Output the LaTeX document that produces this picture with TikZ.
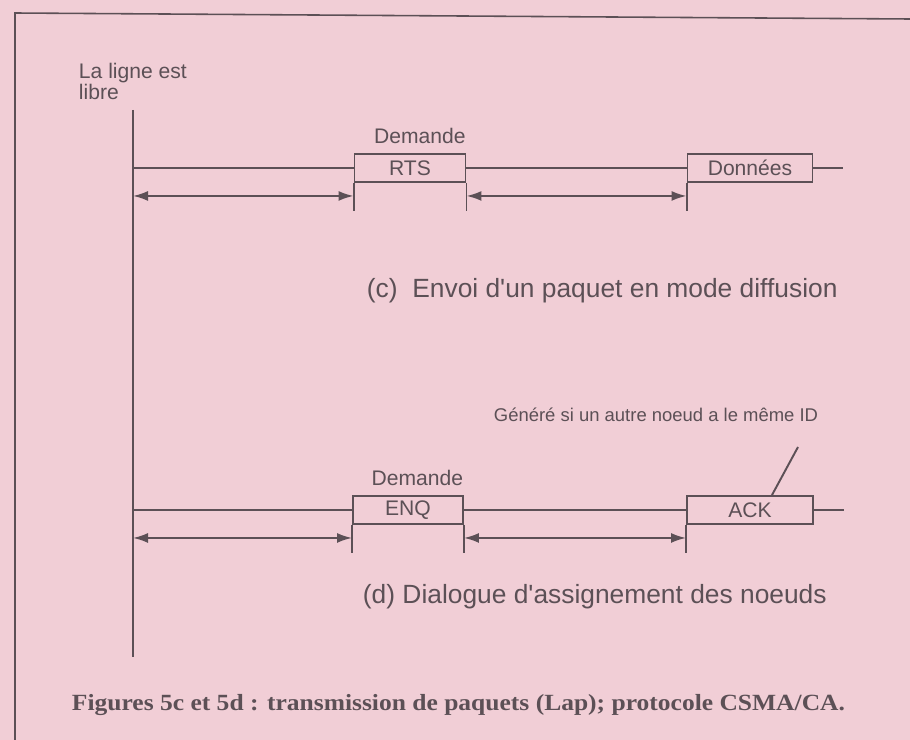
\documentclass[tikz,border=0pt]{standalone}
\usepackage{fontspec}
\setmainfont{Liberation Sans}
\newfontfamily\capfont[FakeStretch=1.1]{Liberation Serif}
\usetikzlibrary{positioning,arrows.meta}
\definecolor{bgpink}{RGB}{241,206,214}
\definecolor{ink}{RGB}{92,80,86}
\tikzstyle{pkt}    = [draw, rectangle, inner sep=0pt, minimum height=5.6mm, font=\fontsize{12}{14}\selectfont]
\tikzstyle{lbl}    = [inner sep=0pt, font=\fontsize{12}{12}\selectfont]
\tikzstyle{darrow} = [<->, >={Latex[length=3mm,width=2mm]}]
\tikzstyle{legend} = [inner sep=0pt, anchor=base west, font=\fontsize{15}{17}\selectfont]

\begin{document}
\begin{tikzpicture}[x=0.2mm, y=-0.2mm, color=ink, line width=1.1pt]
        \fill[bgpink] (0,0) rectangle (910,740);
        \useasboundingbox (0,0) rectangle (910,740);
        \draw[line width=0.9pt] (15,740) -- (15,13) -- (910,19);

        \node[lbl, align=left, anchor=north west] (libre) at (78,62) {La ligne est\\libre};
        \coordinate (top) at (133,110);
        \coordinate (bot) at (133,657);
        \draw (top) -- (bot);

        % (c)
        \node[pkt, minimum width=22.2mm] (RTS) at (410,168) {RTS};
        \node[pkt, minimum width=25mm] (DON) at (750,168) {Données};
        \node[lbl, above=1.6mm of RTS.north east, anchor=south east] (dem1) {Demande};
        \coordinate[below=2.6mm of RTS.south west] (a1);
        \coordinate[below=5.6mm of RTS.south west] (l1);
        \coordinate[below=5.6mm of RTS.south east] (l2);
        \coordinate[below=5.6mm of DON.south west] (l3);
        \coordinate[right=6mm of DON.east] (t1);
        \draw (top |- RTS.west) -- (RTS.west);
        \draw (RTS.east) -- (DON.west);
        \draw (DON.east) -- (t1);
        \draw (RTS.south west) -- (l1);
        \draw (RTS.south east) -- (l2);
        \draw (DON.south west) -- (l3);
        \draw[darrow] (top |- a1) -- (a1);
        \draw[darrow] (RTS.south east |- a1) -- (DON.south west |- a1);
        \node[legend] (capc) at (366,298) {(c)\ \ Envoi d\textquotesingle un paquet en mode diffusion};

        % (d)
        \node[pkt, minimum width=22mm] (ENQ) at (408,510) {ENQ};
        \node[pkt, minimum width=25.2mm] (ACK) at (750,510) {ACK};
        \node[lbl, above=1.6mm of ENQ.north east, anchor=south east] (dem2) {Demande};
        \node[inner sep=0pt, anchor=base west, font=\fontsize{10.5}{12}\selectfont] (gen) at (493,421) {Généré si un autre noeud a le même ID};
        \coordinate (g1) at (798,447);
        \coordinate[below=2.6mm of ENQ.south west] (a2);
        \coordinate[below=5.6mm of ENQ.south west] (m1);
        \coordinate[below=5.6mm of ENQ.south east] (m2);
        \coordinate[below=5.6mm of ACK.south west] (m3);
        \coordinate[right=6mm of ACK.east] (t2);
        \draw (top |- ENQ.west) -- (ENQ.west);
        \draw (ENQ.east) -- (ACK.west);
        \draw (ACK.east) -- (t2);
        \draw (ENQ.south west) -- (m1);
        \draw (ENQ.south east) -- (m2);
        \draw (ACK.south west) -- (m3);
        \draw[darrow] (top |- a2) -- (a2);
        \draw[darrow] (ENQ.south east |- a2) -- (ACK.south west |- a2);
        \draw (g1) -- ([xshift=4.4mm]ACK.north);
        \node[legend] (capd) at (362,603) {(d) Dialogue d\textquotesingle assignement des noeuds};

        \node[inner sep=0pt, anchor=base west, font=\capfont\bfseries\fontsize{13.2}{15}\selectfont] (fig) at (71,710) {Figures 5c et 5d : transmission de paquets (Lap); protocole CSMA/CA.};
\end{tikzpicture}
\end{document}
